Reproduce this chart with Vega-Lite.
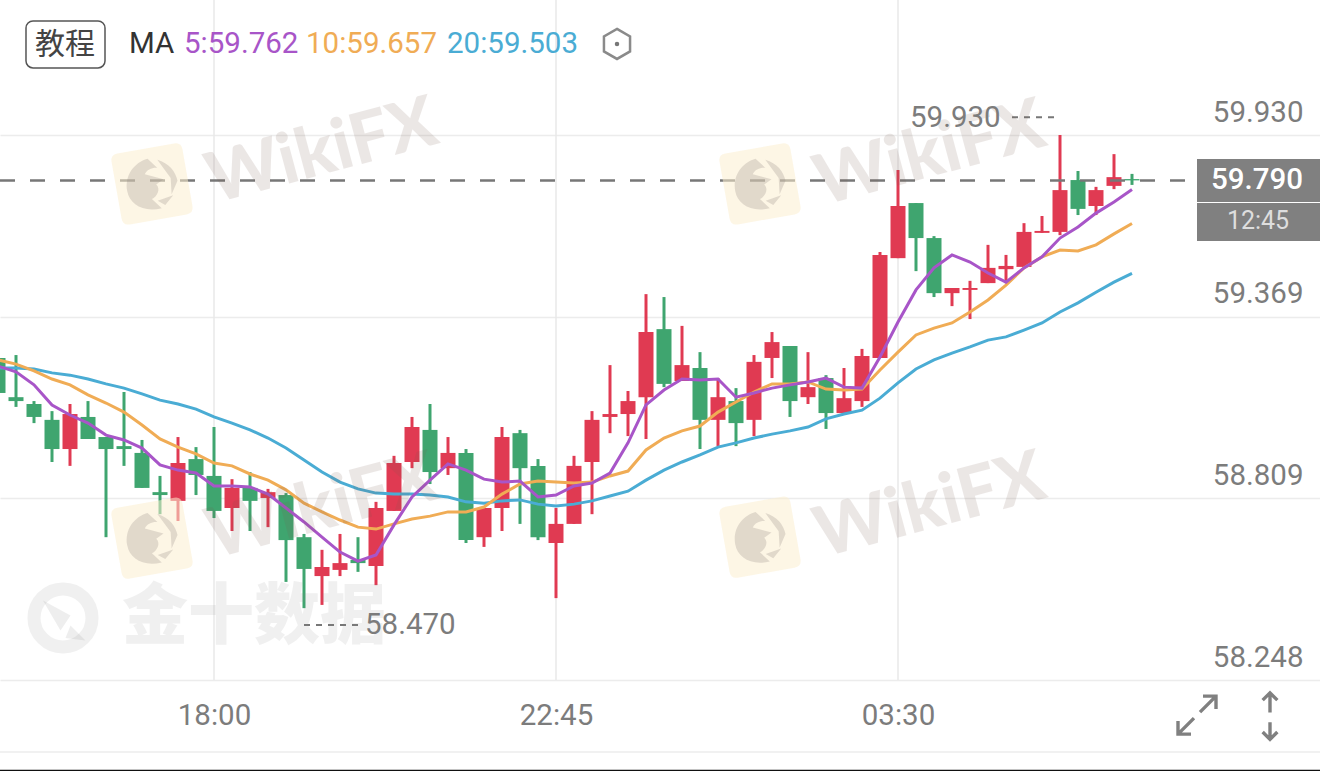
{
"$schema":"https://vega.github.io/schema/vega-lite/v6.json",
"width":1320,"height":771,"padding":0,"autosize":{"type":"none"},"background":"#ffffff",
"config":{"view":{"stroke":null}},
"datasets":{"candles":[
{"t":"2024-01-01T15:00:00Z","o":59.242,"c":59.134,"h":59.242,"l":59.134,"d":"D","m5":59.217,"m10":59.236,"m20":59.211},
{"t":"2024-01-01T15:15:00Z","o":59.121,"c":59.109,"h":59.251,"l":59.091,"d":"D","m5":59.199,"m10":59.223,"m20":59.211},
{"t":"2024-01-01T15:30:00Z","o":59.100,"c":59.060,"h":59.109,"l":59.041,"d":"D","m5":59.159,"m10":59.202,"m20":59.208},
{"t":"2024-01-01T15:45:00Z","o":59.051,"c":58.961,"h":59.078,"l":58.921,"d":"D","m5":59.097,"m10":59.177,"m20":59.196},
{"t":"2024-01-01T16:00:00Z","o":58.961,"c":59.069,"h":59.100,"l":58.909,"d":"U","m5":59.066,"m10":59.159,"m20":59.189},
{"t":"2024-01-01T16:15:00Z","o":59.060,"c":58.992,"h":59.109,"l":58.992,"d":"D","m5":59.041,"m10":59.128,"m20":59.177},
{"t":"2024-01-01T16:30:00Z","o":58.998,"c":58.961,"h":58.998,"l":58.689,"d":"D","m5":59.004,"m10":59.103,"m20":59.162},
{"t":"2024-01-01T16:45:00Z","o":58.970,"c":58.961,"h":59.137,"l":58.909,"d":"D","m5":58.989,"m10":59.075,"m20":59.149},
{"t":"2024-01-01T17:00:00Z","o":58.949,"c":58.841,"h":58.989,"l":58.841,"d":"D","m5":58.964,"m10":59.035,"m20":59.131},
{"t":"2024-01-01T17:15:00Z","o":58.828,"c":58.819,"h":58.878,"l":58.760,"d":"D","m5":58.912,"m10":58.992,"m20":59.112},
{"t":"2024-01-01T17:30:00Z","o":58.801,"c":58.918,"h":58.998,"l":58.739,"d":"U","m5":58.896,"m10":58.967,"m20":59.100},
{"t":"2024-01-01T17:45:00Z","o":58.930,"c":58.881,"h":58.967,"l":58.819,"d":"D","m5":58.887,"m10":58.946,"m20":59.084},
{"t":"2024-01-01T18:00:00Z","o":58.878,"c":58.770,"h":59.029,"l":58.748,"d":"D","m5":58.847,"m10":58.918,"m20":59.060},
{"t":"2024-01-01T18:15:00Z","o":58.779,"c":58.841,"h":58.868,"l":58.708,"d":"U","m5":58.847,"m10":58.909,"m20":59.041},
{"t":"2024-01-01T18:30:00Z","o":58.841,"c":58.801,"h":58.890,"l":58.708,"d":"D","m5":58.844,"m10":58.884,"m20":59.020},
{"t":"2024-01-01T18:45:00Z","o":58.810,"c":58.828,"h":58.838,"l":58.720,"d":"U","m5":58.822,"m10":58.865,"m20":58.995},
{"t":"2024-01-01T19:00:00Z","o":58.819,"c":58.680,"h":58.825,"l":58.551,"d":"D","m5":58.779,"m10":58.835,"m20":58.964},
{"t":"2024-01-01T19:15:00Z","o":58.689,"c":58.591,"h":58.699,"l":58.470,"d":"D","m5":58.736,"m10":58.794,"m20":58.927},
{"t":"2024-01-01T19:30:00Z","o":58.569,"c":58.597,"h":58.650,"l":58.480,"d":"U","m5":58.689,"m10":58.767,"m20":58.890},
{"t":"2024-01-01T19:45:00Z","o":58.588,"c":58.609,"h":58.699,"l":58.569,"d":"U","m5":58.643,"m10":58.742,"m20":58.859},
{"t":"2024-01-01T20:00:00Z","o":58.619,"c":58.609,"h":58.689,"l":58.582,"d":"D","m5":58.615,"m10":58.720,"m20":58.838},
{"t":"2024-01-01T20:15:00Z","o":58.600,"c":58.779,"h":58.798,"l":58.541,"d":"U","m5":58.634,"m10":58.714,"m20":58.825},
{"t":"2024-01-01T20:30:00Z","o":58.770,"c":58.918,"h":58.940,"l":58.770,"d":"U","m5":58.727,"m10":58.730,"m20":58.822},
{"t":"2024-01-01T20:45:00Z","o":58.921,"c":59.029,"h":59.060,"l":58.902,"d":"U","m5":58.813,"m10":58.745,"m20":58.822},
{"t":"2024-01-01T21:00:00Z","o":59.020,"c":58.890,"h":59.100,"l":58.853,"d":"D","m5":58.865,"m10":58.754,"m20":58.819},
{"t":"2024-01-01T21:15:00Z","o":58.902,"c":58.949,"h":58.998,"l":58.881,"d":"U","m5":58.915,"m10":58.767,"m20":58.813},
{"t":"2024-01-01T21:30:00Z","o":58.949,"c":58.680,"h":58.961,"l":58.671,"d":"D","m5":58.896,"m10":58.767,"m20":58.798},
{"t":"2024-01-01T21:45:00Z","o":58.689,"c":58.779,"h":58.779,"l":58.659,"d":"U","m5":58.868,"m10":58.782,"m20":58.794},
{"t":"2024-01-01T22:00:00Z","o":58.779,"c":58.998,"h":59.029,"l":58.708,"d":"U","m5":58.859,"m10":58.822,"m20":58.801},
{"t":"2024-01-01T22:15:00Z","o":59.010,"c":58.902,"h":59.020,"l":58.730,"d":"D","m5":58.862,"m10":58.853,"m20":58.804},
{"t":"2024-01-01T22:30:00Z","o":58.909,"c":58.689,"h":58.930,"l":58.680,"d":"D","m5":58.813,"m10":58.862,"m20":58.791},
{"t":"2024-01-01T22:45:00Z","o":58.671,"c":58.730,"h":58.779,"l":58.501,"d":"U","m5":58.819,"m10":58.859,"m20":58.785},
{"t":"2024-01-01T23:00:00Z","o":58.730,"c":58.909,"h":58.940,"l":58.730,"d":"U","m5":58.847,"m10":58.856,"m20":58.791},
{"t":"2024-01-01T23:15:00Z","o":58.921,"c":59.051,"h":59.078,"l":58.760,"d":"U","m5":58.856,"m10":58.859,"m20":58.801},
{"t":"2024-01-01T23:30:00Z","o":59.060,"c":59.069,"h":59.220,"l":59.010,"d":"U","m5":58.887,"m10":58.878,"m20":58.816},
{"t":"2024-01-01T23:45:00Z","o":59.069,"c":59.109,"h":59.140,"l":59.001,"d":"U","m5":58.980,"m10":58.893,"m20":58.831},
{"t":"2024-01-02T00:00:00Z","o":59.121,"c":59.322,"h":59.439,"l":58.992,"d":"U","m5":59.097,"m10":58.958,"m20":58.865},
{"t":"2024-01-02T00:15:00Z","o":59.331,"c":59.162,"h":59.430,"l":59.152,"d":"D","m5":59.143,"m10":58.995,"m20":58.896},
{"t":"2024-01-02T00:30:00Z","o":59.171,"c":59.220,"h":59.341,"l":59.171,"d":"U","m5":59.177,"m10":59.017,"m20":58.921},
{"t":"2024-01-02T00:45:00Z","o":59.211,"c":59.051,"h":59.260,"l":58.961,"d":"D","m5":59.174,"m10":59.032,"m20":58.943},
{"t":"2024-01-02T01:00:00Z","o":59.051,"c":59.121,"h":59.180,"l":58.970,"d":"U","m5":59.177,"m10":59.075,"m20":58.967},
{"t":"2024-01-02T01:15:00Z","o":59.109,"c":59.041,"h":59.149,"l":58.970,"d":"D","m5":59.121,"m10":59.106,"m20":58.980},
{"t":"2024-01-02T01:30:00Z","o":59.051,"c":59.230,"h":59.251,"l":59.001,"d":"U","m5":59.134,"m10":59.137,"m20":58.995},
{"t":"2024-01-02T01:45:00Z","o":59.242,"c":59.291,"h":59.322,"l":59.180,"d":"U","m5":59.149,"m10":59.162,"m20":59.007},
{"t":"2024-01-02T02:00:00Z","o":59.279,"c":59.109,"h":59.279,"l":59.060,"d":"D","m5":59.159,"m10":59.162,"m20":59.017},
{"t":"2024-01-02T02:15:00Z","o":59.121,"c":59.152,"h":59.260,"l":59.100,"d":"U","m5":59.168,"m10":59.168,"m20":59.029},
{"t":"2024-01-02T02:30:00Z","o":59.180,"c":59.072,"h":59.189,"l":59.023,"d":"D","m5":59.180,"m10":59.146,"m20":59.054},
{"t":"2024-01-02T02:45:00Z","o":59.072,"c":59.118,"h":59.211,"l":59.072,"d":"U","m5":59.152,"m10":59.143,"m20":59.069},
{"t":"2024-01-02T03:00:00Z","o":59.109,"c":59.248,"h":59.270,"l":59.091,"d":"U","m5":59.149,"m10":59.146,"m20":59.081},
{"t":"2024-01-02T03:15:00Z","o":59.242,"c":59.560,"h":59.569,"l":59.242,"d":"U","m5":59.245,"m10":59.205,"m20":59.118},
{"t":"2024-01-02T03:30:00Z","o":59.550,"c":59.711,"h":59.822,"l":59.550,"d":"U","m5":59.353,"m10":59.260,"m20":59.165},
{"t":"2024-01-02T03:45:00Z","o":59.720,"c":59.612,"h":59.720,"l":59.510,"d":"D","m5":59.452,"m10":59.313,"m20":59.208},
{"t":"2024-01-02T04:00:00Z","o":59.612,"c":59.442,"h":59.618,"l":59.430,"d":"D","m5":59.520,"m10":59.334,"m20":59.236},
{"t":"2024-01-02T04:15:00Z","o":59.442,"c":59.458,"h":59.458,"l":59.402,"d":"U","m5":59.560,"m10":59.350,"m20":59.257},
{"t":"2024-01-02T04:30:00Z","o":59.452,"c":59.458,"h":59.480,"l":59.362,"d":"U","m5":59.538,"m10":59.384,"m20":59.276},
{"t":"2024-01-02T04:45:00Z","o":59.473,"c":59.520,"h":59.591,"l":59.473,"d":"U","m5":59.504,"m10":59.421,"m20":59.297},
{"t":"2024-01-02T05:00:00Z","o":59.516,"c":59.526,"h":59.560,"l":59.473,"d":"U","m5":59.476,"m10":59.467,"m20":59.307},
{"t":"2024-01-02T05:15:00Z","o":59.523,"c":59.631,"h":59.658,"l":59.523,"d":"U","m5":59.520,"m10":59.520,"m20":59.328},
{"t":"2024-01-02T05:30:00Z","o":59.628,"c":59.634,"h":59.680,"l":59.628,"d":"U","m5":59.554,"m10":59.554,"m20":59.350},
{"t":"2024-01-02T05:45:00Z","o":59.631,"c":59.760,"h":59.930,"l":59.621,"d":"U","m5":59.612,"m10":59.575,"m20":59.384},
{"t":"2024-01-02T06:00:00Z","o":59.791,"c":59.702,"h":59.819,"l":59.683,"d":"D","m5":59.646,"m10":59.572,"m20":59.412},
{"t":"2024-01-02T06:15:00Z","o":59.711,"c":59.760,"h":59.770,"l":59.683,"d":"U","m5":59.689,"m10":59.591,"m20":59.445},
{"t":"2024-01-02T06:30:00Z","o":59.773,"c":59.800,"h":59.871,"l":59.763,"d":"U","m5":59.723,"m10":59.625,"m20":59.476},
{"t":"2024-01-02T06:45:00Z","o":59.794,"c":59.790,"h":59.810,"l":59.776,"d":"D","m5":59.762,"m10":59.657,"m20":59.503}
]},
"layer":[
{"data":{"values":[{"t":"2024-01-01T18:00:00Z","p0":58.248,"p1":60.3466},{"t":"2024-01-01T22:45:00Z","p0":58.248,"p1":60.3466},{"t":"2024-01-02T03:30:00Z","p0":58.248,"p1":60.3466}]},
"mark":{"type":"rule","color":"#e8e8e8","strokeWidth":1.5},
"encoding":{"x":{"field":"t","type":"temporal","scale":{"type":"utc","domain":[1704121300000,1704187300000],"nice":false,"padding":0},
"axis":{"orient":"bottom","offset":-91,"values":[1704132000000,1704149100000,1704166200000],"format":"%H:%M","labelFontSize":29.5,"labelFont":"Roboto","labelColor":"#7c7c7c","labelPadding":21,"ticks":false,"domain":false,"grid":false,"title":null,"labelOverlap":false,"labelFlush":false}},
"y":{"field":"p0","type":"quantitative","scale":{"domain":[57.9675,60.3466],"nice":false,"zero":false},
"axis":{"orient":"right","offset":-17,"values":[59.93,59.369,58.809,58.248],"format":".3f","labelFontSize":29.5,"labelFont":"Roboto","labelColor":"#7c7c7c","labelAlign":"right","labelBaseline":"middle","labelOffset":-23,"labelPadding":0,"ticks":false,"domain":false,"grid":true,"gridColor":"#ececec","gridWidth":1.5,"title":null,"labelOverlap":false,"labelFlush":false}},
"y2":{"field":"p1"}}},
{"data":{"values":[{"t":"2024-01-01T15:01:40Z","t2":"2024-01-02T09:21:40Z","p":58.026}]},
"mark":{"type":"rule","color":"#ececec","strokeWidth":1.5},
"encoding":{"x":{"field":"t","type":"temporal","scale":{"type":"utc","domain":[1704121300000,1704187300000],"nice":false,"padding":0}},"x2":{"field":"t2"},"y":{"field":"p","type":"quantitative","scale":{"domain":[57.9675,60.3466],"nice":false,"zero":false}}}},
{"data":{"values":[{"t":"2024-01-01T15:01:40Z","t2":"2024-01-02T09:21:40Z","p":57.969}]},
"mark":{"type":"rule","color":"#111111","strokeWidth":1.5},
"encoding":{"x":{"field":"t","type":"temporal","scale":{"type":"utc","domain":[1704121300000,1704187300000],"nice":false,"padding":0}},"x2":{"field":"t2"},"y":{"field":"p","type":"quantitative","scale":{"domain":[57.9675,60.3466],"nice":false,"zero":false}}}},
{"data":{"name":"candles"},"mark":{"type":"rule","strokeWidth":3,"clip":true},
"encoding":{"x":{"field":"t","type":"temporal","scale":{"type":"utc","domain":[1704121300000,1704187300000],"nice":false,"padding":0}},
"y":{"field":"h","type":"quantitative","scale":{"domain":[57.9675,60.3466],"nice":false,"zero":false}},"y2":{"field":"l"},
"color":{"field":"d","type":"nominal","scale":{"domain":["U","D"],"range":["#E03A52","#3FA56F"]},"legend":null}}},
{"data":{"name":"candles"},"mark":{"type":"bar","size":15,"clip":true},
"encoding":{"x":{"field":"t","type":"temporal","scale":{"type":"utc","domain":[1704121300000,1704187300000],"nice":false,"padding":0}},
"y":{"field":"o","type":"quantitative","scale":{"domain":[57.9675,60.3466],"nice":false,"zero":false},"stack":null},"y2":{"field":"c"},
"color":{"field":"d","type":"nominal","scale":{"domain":["U","D"],"range":["#E03A52","#3FA56F"]},"legend":null}}},
{"data":{"name":"candles"},"mark":{"type":"line","color":"#4AACD4","strokeWidth":3,"clip":true},
"encoding":{"x":{"field":"t","type":"temporal","scale":{"type":"utc","domain":[1704121300000,1704187300000],"nice":false,"padding":0}},
"y":{"field":"m20","type":"quantitative","scale":{"domain":[57.9675,60.3466],"nice":false,"zero":false}}}},
{"data":{"name":"candles"},"mark":{"type":"line","color":"#F0AC55","strokeWidth":3,"clip":true},
"encoding":{"x":{"field":"t","type":"temporal","scale":{"type":"utc","domain":[1704121300000,1704187300000],"nice":false,"padding":0}},
"y":{"field":"m10","type":"quantitative","scale":{"domain":[57.9675,60.3466],"nice":false,"zero":false}}}},
{"data":{"name":"candles"},"mark":{"type":"line","color":"#A855C8","strokeWidth":3,"clip":true},
"encoding":{"x":{"field":"t","type":"temporal","scale":{"type":"utc","domain":[1704121300000,1704187300000],"nice":false,"padding":0}},
"y":{"field":"m5","type":"quantitative","scale":{"domain":[57.9675,60.3466],"nice":false,"zero":false}}}},
{"data":{"values":[{"t":"2024-01-01T15:01:40Z","t2":"2024-01-02T07:39:10Z","p":59.79}]},
"mark":{"type":"rule","color":"#777777","strokeWidth":2.5,"strokeDash":[15,15]},
"encoding":{"x":{"field":"t","type":"temporal","scale":{"type":"utc","domain":[1704121300000,1704187300000],"nice":false,"padding":0}},"x2":{"field":"t2"},"y":{"field":"p","type":"quantitative","scale":{"domain":[57.9675,60.3466],"nice":false,"zero":false}}}},
{"data":{"values":[{"t":"2024-01-02T05:05:00Z","t2":"2024-01-02T05:41:40Z","p":59.985},{"t":"2024-01-01T19:15:00Z","t2":"2024-01-01T20:01:40Z","p":58.418}]},
"mark":{"type":"rule","color":"#777777","strokeWidth":2,"strokeDash":[6,6]},
"encoding":{"x":{"field":"t","type":"temporal","scale":{"type":"utc","domain":[1704121300000,1704187300000],"nice":false,"padding":0}},"x2":{"field":"t2"},"y":{"field":"p","type":"quantitative","scale":{"domain":[57.9675,60.3466],"nice":false,"zero":false}}}},
{"data":{"values":[{"t":"2024-01-01T17:08:20Z","p":59.779},{"t":"2024-01-02T01:35:00Z","p":59.779},{"t":"2024-01-01T17:08:20Z","p":58.686},{"t":"2024-01-02T01:35:00Z","p":58.689}]},
"mark":{"type":"point","filled":true,"color":"#FBEFCF","opacity":0.55,"size":5184,"angle":350,"shape":"M-.8,-1H.8Q1,-1 1,-.8V.8Q1,1 .8,1H-.8Q-1,1 -1,.8V-.8Q-1,-1 -.8,-1Z"},
"encoding":{"x":{"field":"t","type":"temporal","scale":{"type":"utc","domain":[1704121300000,1704187300000],"nice":false,"padding":0}},"y":{"field":"p","type":"quantitative","scale":{"domain":[57.9675,60.3466],"nice":false,"zero":false}}}},
{"data":{"values":[{"t":"2024-01-01T17:08:20Z","p":59.779},{"t":"2024-01-02T01:35:00Z","p":59.779},{"t":"2024-01-01T17:08:20Z","p":58.686},{"t":"2024-01-02T01:35:00Z","p":58.689}]},
"mark":{"type":"point","filled":true,"color":"#8f8580","opacity":0.25,"size":2916,"angle":350,"shape":"M-.95,.1C-.95,-.5 -.5,-.9 0,-.95L.3,-.55C.1,-.6 -.1,-.55 -.2,-.4L.45,-.1L.15,.05C.3,.25 .1,.5 -.1,.55L.2,.95C-.5,1 -.95,.6 -.95,.1ZM.35,-.85C.75,-.65 .95,-.3 .95,.05L.65,.5L.72,-.1ZM.35,.85L.7,.55L.1,.65Z"},
"encoding":{"x":{"field":"t","type":"temporal","scale":{"type":"utc","domain":[1704121300000,1704187300000],"nice":false,"padding":0}},"y":{"field":"p","type":"quantitative","scale":{"domain":[57.9675,60.3466],"nice":false,"zero":false}}}},
{"data":{"values":[{"t":"2024-01-01T19:30:00Z","p":59.875,"label":"WikiFX"},{"t":"2024-01-02T03:56:40Z","p":59.868,"label":"WikiFX"},{"t":"2024-01-01T19:30:00Z","p":58.779,"label":"WikiFX"},{"t":"2024-01-02T03:56:40Z","p":58.782,"label":"WikiFX"}]},
"mark":{"type":"text","font":"Lato","fontWeight":900,"fontSize":70,"angle":345,"color":"#7a5c50","opacity":0.14,"align":"center","baseline":"middle"},
"encoding":{"x":{"field":"t","type":"temporal","scale":{"type":"utc","domain":[1704121300000,1704187300000],"nice":false,"padding":0}},"y":{"field":"p","type":"quantitative","scale":{"domain":[57.9675,60.3466],"nice":false,"zero":false}},"text":{"field":"label"}}},
{"data":{"values":[{"t":"2024-01-01T15:54:10Z","p":58.440}]},
"mark":{"type":"point","filled":false,"shape":"circle","stroke":"#8a8a8a","strokeWidth":13,"opacity":0.12,"size":3364},
"encoding":{"x":{"field":"t","type":"temporal","scale":{"type":"utc","domain":[1704121300000,1704187300000],"nice":false,"padding":0}},"y":{"field":"p","type":"quantitative","scale":{"domain":[57.9675,60.3466],"nice":false,"zero":false}}}},
{"data":{"values":[{"t":"2024-01-01T15:54:10Z","p":58.440}]},
"mark":{"type":"point","filled":true,"shape":"M-.8,-.7L.3,-.1L-.1,.5ZM.3,.3L.9,.9L.1,.8Z","color":"#8a8a8a","opacity":0.14,"size":2500},
"encoding":{"x":{"field":"t","type":"temporal","scale":{"type":"utc","domain":[1704121300000,1704187300000],"nice":false,"padding":0}},"y":{"field":"p","type":"quantitative","scale":{"domain":[57.9675,60.3466],"nice":false,"zero":false}}}},
{"data":{"values":[{"t":"2024-01-01T18:33:20Z","p":58.440,"label":"金十数据"}]},
"mark":{"type":"text","font":"Noto Sans CJK SC","fontWeight":900,"fontSize":66,"color":"#8a8a8a","opacity":0.12,"align":"center","baseline":"middle"},
"encoding":{"x":{"field":"t","type":"temporal","scale":{"type":"utc","domain":[1704121300000,1704187300000],"nice":false,"padding":0}},"y":{"field":"p","type":"quantitative","scale":{"domain":[57.9675,60.3466],"nice":false,"zero":false}},"text":{"field":"label"}}},
{"data":{"values":[{"t":"2024-01-02T07:39:10Z","t2":"2024-01-02T09:21:40Z","p":59.856,"p2":59.723},{"t":"2024-01-02T07:39:10Z","t2":"2024-01-02T09:21:40Z","p":59.720,"p2":59.603}]},
"mark":{"type":"rect","color":"#808080"},
"encoding":{"x":{"field":"t","type":"temporal","scale":{"type":"utc","domain":[1704121300000,1704187300000],"nice":false,"padding":0}},"x2":{"field":"t2"},"y":{"field":"p","type":"quantitative","scale":{"domain":[57.9675,60.3466],"nice":false,"zero":false}},"y2":{"field":"p2"}}},
{"data":{"values":[{"t":"2024-01-02T09:07:30Z","p":59.79,"label":"59.790"}]},
"mark":{"type":"text","font":"Roboto","fontWeight":500,"fontSize":29.5,"color":"#ffffff","align":"right","baseline":"middle"},
"encoding":{"x":{"field":"t","type":"temporal","scale":{"type":"utc","domain":[1704121300000,1704187300000],"nice":false,"padding":0}},"y":{"field":"p","type":"quantitative","scale":{"domain":[57.9675,60.3466],"nice":false,"zero":false}},"text":{"field":"label"}}},
{"data":{"values":[{"t":"2024-01-02T08:30:00Z","p":59.664,"label":"12:45"}]},
"mark":{"type":"text","font":"Roboto","fontSize":25,"color":"#dedede","align":"center","baseline":"middle"},
"encoding":{"x":{"field":"t","type":"temporal","scale":{"type":"utc","domain":[1704121300000,1704187300000],"nice":false,"padding":0}},"y":{"field":"p","type":"quantitative","scale":{"domain":[57.9675,60.3466],"nice":false,"zero":false}},"text":{"field":"label"}}},
{"data":{"values":[{"t":"2024-01-02T03:40:00Z","p":59.982,"label":"59.930"},{"t":"2024-01-01T20:05:50Z","p":58.418,"label":"58.470"}]},
"mark":{"type":"text","font":"Roboto","fontSize":29.5,"color":"#7c7c7c","align":"left","baseline":"middle"},
"encoding":{"x":{"field":"t","type":"temporal","scale":{"type":"utc","domain":[1704121300000,1704187300000],"nice":false,"padding":0}},"y":{"field":"p","type":"quantitative","scale":{"domain":[57.9675,60.3466],"nice":false,"zero":false}},"text":{"field":"label"}}},
{"data":{"values":[{"t":"2024-01-01T15:23:20Z","t2":"2024-01-01T16:29:10Z","p":60.282,"p2":60.137}]},
"mark":{"type":"rect","fillOpacity":0,"stroke":"#555555","strokeWidth":1.5,"cornerRadius":7},
"encoding":{"x":{"field":"t","type":"temporal","scale":{"type":"utc","domain":[1704121300000,1704187300000],"nice":false,"padding":0}},"x2":{"field":"t2"},"y":{"field":"p","type":"quantitative","scale":{"domain":[57.9675,60.3466],"nice":false,"zero":false}},"y2":{"field":"p2"}}},
{"data":{"values":[{"t":"2024-01-01T15:55:50Z","p":60.209,"label":"教程"}]},
"mark":{"type":"text","font":"Noto Sans CJK SC","fontSize":30,"color":"#444444","align":"center","baseline":"middle"},
"encoding":{"x":{"field":"t","type":"temporal","scale":{"type":"utc","domain":[1704121300000,1704187300000],"nice":false,"padding":0}},"y":{"field":"p","type":"quantitative","scale":{"domain":[57.9675,60.3466],"nice":false,"zero":false}},"text":{"field":"label"}}},
{"data":{"values":[{"t":"2024-01-01T16:49:10Z","p":60.211,"label":"MA","s":"MA"},{"t":"2024-01-01T17:35:00Z","p":60.211,"label":"5:59.762","s":"m5"},{"t":"2024-01-01T19:16:40Z","p":60.211,"label":"10:59.657","s":"m10"},{"t":"2024-01-01T21:14:10Z","p":60.211,"label":"20:59.503","s":"m20"}]},
"mark":{"type":"text","font":"Roboto","fontSize":29.5,"align":"left","baseline":"middle"},
"encoding":{"x":{"field":"t","type":"temporal","scale":{"type":"utc","domain":[1704121300000,1704187300000],"nice":false,"padding":0}},"y":{"field":"p","type":"quantitative","scale":{"domain":[57.9675,60.3466],"nice":false,"zero":false}},"text":{"field":"label"},
"fill":{"field":"s","type":"nominal","scale":{"domain":["MA","m5","m10","m20"],"range":["#333333","#A855C8","#F0AC55","#4AACD4"]},"legend":null}}},
{"data":{"values":[{"t":"2024-01-01T23:35:50Z","p":60.211}]},
"mark":{"type":"point","filled":false,"stroke":"#8a8a8a","strokeWidth":2.5,"size":900,"opacity":1,"shape":"M0,-1L.87,-.5L.87,.5L0,1L-.87,.5L-.87,-.5Z"},
"encoding":{"x":{"field":"t","type":"temporal","scale":{"type":"utc","domain":[1704121300000,1704187300000],"nice":false,"padding":0}},"y":{"field":"p","type":"quantitative","scale":{"domain":[57.9675,60.3466],"nice":false,"zero":false}}}},
{"data":{"values":[{"t":"2024-01-01T23:35:50Z","p":60.211}]},
"mark":{"type":"point","filled":true,"color":"#777777","size":20,"opacity":1,"shape":"circle"},
"encoding":{"x":{"field":"t","type":"temporal","scale":{"type":"utc","domain":[1704121300000,1704187300000],"nice":false,"padding":0}},"y":{"field":"p","type":"quantitative","scale":{"domain":[57.9675,60.3466],"nice":false,"zero":false}}}},
{"data":{"values":[{"t":"2024-01-02T07:39:10Z","p":58.140}]},
"mark":{"type":"point","filled":false,"stroke":"#808080","strokeWidth":3.4,"size":1600,"opacity":1,"shape":"M.15,-.15L.95,-.95M.3,-.95L.95,-.95L.95,-.3M-.15,.15L-.95,.95M-.95,.3L-.95,.95L-.3,.95"},
"encoding":{"x":{"field":"t","type":"temporal","scale":{"type":"utc","domain":[1704121300000,1704187300000],"nice":false,"padding":0}},"y":{"field":"p","type":"quantitative","scale":{"domain":[57.9675,60.3466],"nice":false,"zero":false}}}},
{"data":{"values":[{"t":"2024-01-02T08:40:00Z","p":58.137}]},
"mark":{"type":"point","filled":false,"stroke":"#808080","strokeWidth":3.4,"size":2401,"opacity":1,"shape":"M0,-.15L0,-.95M-.3,-.65L0,-.95L.3,-.65M0,.25L0,.95M-.3,.65L0,.95L.3,.65"},
"encoding":{"x":{"field":"t","type":"temporal","scale":{"type":"utc","domain":[1704121300000,1704187300000],"nice":false,"padding":0}},"y":{"field":"p","type":"quantitative","scale":{"domain":[57.9675,60.3466],"nice":false,"zero":false}}}}
]
}
